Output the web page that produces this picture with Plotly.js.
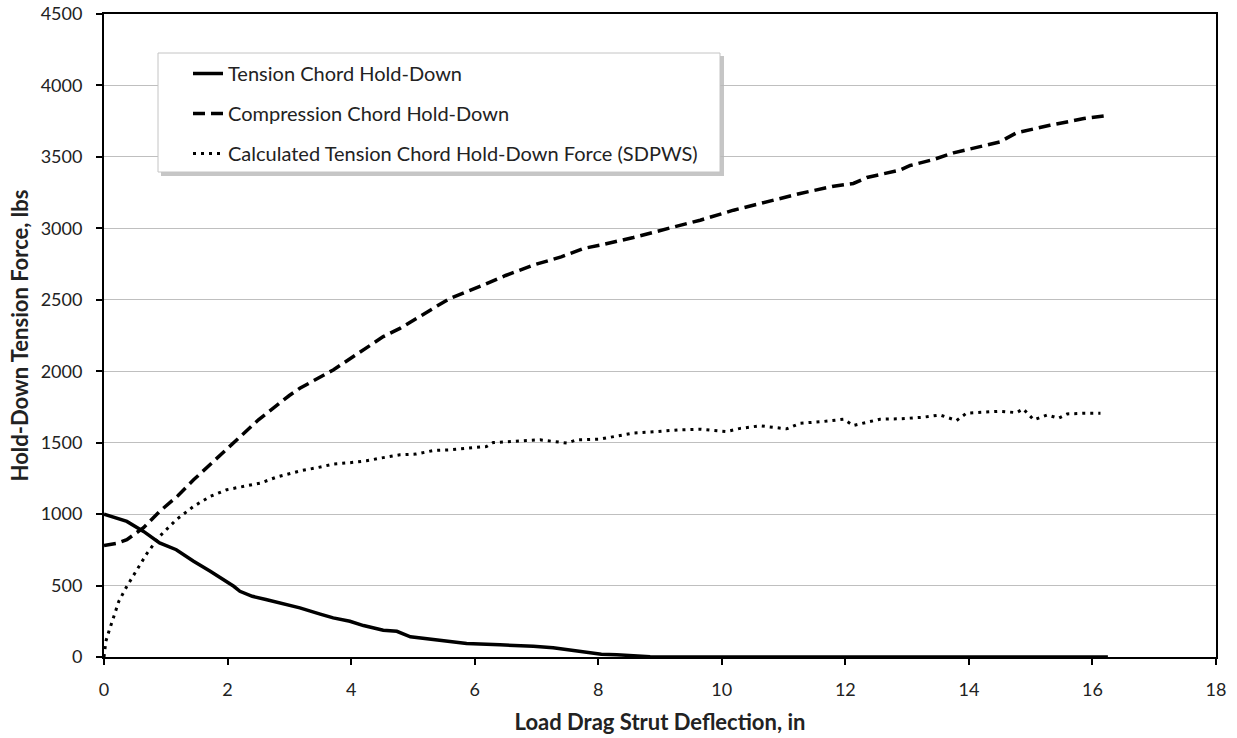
<!DOCTYPE html>
<html>
<head>
<meta charset="utf-8">
<script src="https://cdn.plot.ly/plotly-3.0.1.min.js"></script>
<style>html,body{margin:0;padding:0;background:#fff;}#chart{width:1237px;height:738px;}</style>
</head>
<body>
<div id="chart"></div>
<script>
// Tension Chord Hold-Down (solid)
const tensionX = [0,0.2,0.37,0.64,0.9,1.17,1.45,1.72,1.99,2.1,2.2,2.4,2.62,3.05,3.17,3.5,3.71,3.98,4.2,4.52,4.74,4.96,5.2,5.44,5.87,6.41,6.95,7.27,7.49,7.81,8.05,8.3,8.56,8.84,9.2,10,12,14,16.25];
const tensionY = [1000,975,949,879,798,751,670,600,530,495,460,425,402,355,344,300,274,250,220,187,180,141,128,117,94,85,76,64,51,28,20,16,10,2,0,0,0,0,0];

// Compression Chord Hold-Down (dashed)
const compX = [0,0.2,0.37,0.64,0.9,1.2,1.45,1.7,1.93,2.5,3.0,3.17,3.71,4.2,4.52,4.79,5.33,5.6,6.14,6.5,6.95,7.4,7.76,8.03,8.57,9.11,9.65,10.19,10.73,11.27,11.81,12.13,12.35,12.88,13.05,13.43,13.75,13.96,14.5,14.77,15.31,15.86,16.18,16.25];
const compY = [780,795,821,905,1019,1130,1240,1340,1438,1660,1830,1881,2009,2150,2242,2300,2440,2510,2603,2670,2743,2800,2859,2882,2936,2999,3057,3127,3185,3244,3295,3314,3356,3407,3440,3482,3528,3551,3605,3668,3721,3768,3791,3790];

// Calculated Tension Chord Hold-Down Force (SDPWS) (dotted)
const calcX = [0,0.03,0.08,0.16,0.24,0.37,0.53,0.7,0.9,1.17,1.45,1.72,1.99,2.25,2.53,2.8,3.05,3.2,3.45,3.71,3.98,4.25,4.45,4.79,5.05,5.33,5.6,5.87,6.19,6.3,6.68,7.06,7.49,7.65,8.03,8.35,8.57,8.95,9.33,9.65,10.08,10.3,10.62,11.05,11.27,11.64,11.97,12.13,12.56,12.88,13.26,13.53,13.8,13.96,14.18,14.5,14.77,14.88,15.05,15.27,15.45,15.59,15.86,16.13];
const calcY = [0,110,180,285,390,495,611,728,844,961,1054,1124,1171,1195,1217,1260,1287,1305,1325,1350,1360,1373,1390,1415,1420,1445,1450,1462,1473,1501,1510,1520,1497,1520,1525,1548,1567,1578,1590,1594,1578,1600,1618,1597,1636,1648,1664,1620,1664,1667,1678,1694,1655,1706,1710,1720,1710,1736,1660,1694,1671,1701,1706,1706];

const seriesNames = ["Tension Chord Hold-Down","Compression Chord Hold-Down","Calculated Tension Chord Hold-Down Force (SDPWS)"];
const xTicks = [0,2,4,6,8,10,12,14,16,18];
const yTicks = [0,500,1000,1500,2000,2500,3000,3500,4000,4500];

const FONT = "Lato, 'Open Sans', sans-serif";

const traces = [
  {x: tensionX, y: tensionY, name: seriesNames[0], mode: "lines", legendgroup: "a",
   line: {color: "#000", width: 3.5, dash: "solid"}},
  {x: compX, y: compY, name: seriesNames[1], mode: "lines", legendgroup: "b",
   line: {color: "#000", width: 3.5, dash: "12px,6px"}},
  {x: calcX, y: calcY, name: seriesNames[2], mode: "lines", legendgroup: "c",
   line: {color: "#000", width: 3, dash: "3px,5px"}}
];

const L = 104, R = 21, T = 14, B = 81;
const W = 1237, H = 738;
const pw = W - L - R, ph = H - T - B;
function px2x(p){ return (p - L) / pw; }
function py2y(p){ return (H - B - p) / ph; }

const layout = {
  width: W, height: H,
  margin: {l: L, r: R, t: T, b: B},
  paper_bgcolor: "#fff", plot_bgcolor: "#fff",
  font: {family: FONT, color: "#222", size: 18},
  showlegend: true,
  legend: {
    x: px2x(188), y: py2y(54), xanchor: "left", yanchor: "top",
    bgcolor: "rgba(0,0,0,0)", borderwidth: 0,
    font: {family: FONT, size: 20, color: "#222"},
    traceorder: "grouped", tracegroupgap: 11
  },
  xaxis: {
    range: [0, 18], tickvals: xTicks, ticktext: xTicks.map(String),
    showgrid: false, zeroline: false,
    showline: true, linecolor: "#000", linewidth: 2, mirror: true,
    ticks: "outside", ticklen: 6, tickwidth: 2, tickcolor: "#000",
    ticklabelstandoff: 9,
    tickfont: {family: FONT, size: 18, color: "#222"},
    title: {text: "<b>Load Drag Strut Deflection, in</b>", font: {family: FONT, size: 22, color: "#222"}, standoff: 16}
  },
  yaxis: {
    range: [0, 4500], tickvals: yTicks, ticktext: yTicks.map(String),
    showgrid: true, gridcolor: "#bfbfbf", gridwidth: 1, zeroline: false,
    showline: true, linecolor: "#000", linewidth: 2, mirror: true,
    ticks: "outside", ticklen: 6, tickwidth: 2, tickcolor: "#000",
    ticklabelstandoff: 10,
    tickfont: {family: FONT, size: 18, color: "#222"},
    title: {text: "<b>Hold-Down Tension Force, lbs</b>", font: {family: FONT, size: 22, color: "#222"}, standoff: 6}
  },
  shapes: [
    {type: "rect", xref: "paper", yref: "paper", layer: "above",
     x0: px2x(161), x1: px2x(724), y0: py2y(176), y1: py2y(56),
     fillcolor: "#b8b8b8", line: {width: 0}, opacity: 0.8},
    {type: "rect", xref: "paper", yref: "paper", layer: "above",
     x0: px2x(158), x1: px2x(720), y0: py2y(172), y1: py2y(53),
     fillcolor: "#fff", line: {color: "#c4c4c4", width: 1}}
  ]
};

Plotly.newPlot("chart", traces, layout, {displayModeBar: false, staticPlot: true});
</script>
</body>
</html>
